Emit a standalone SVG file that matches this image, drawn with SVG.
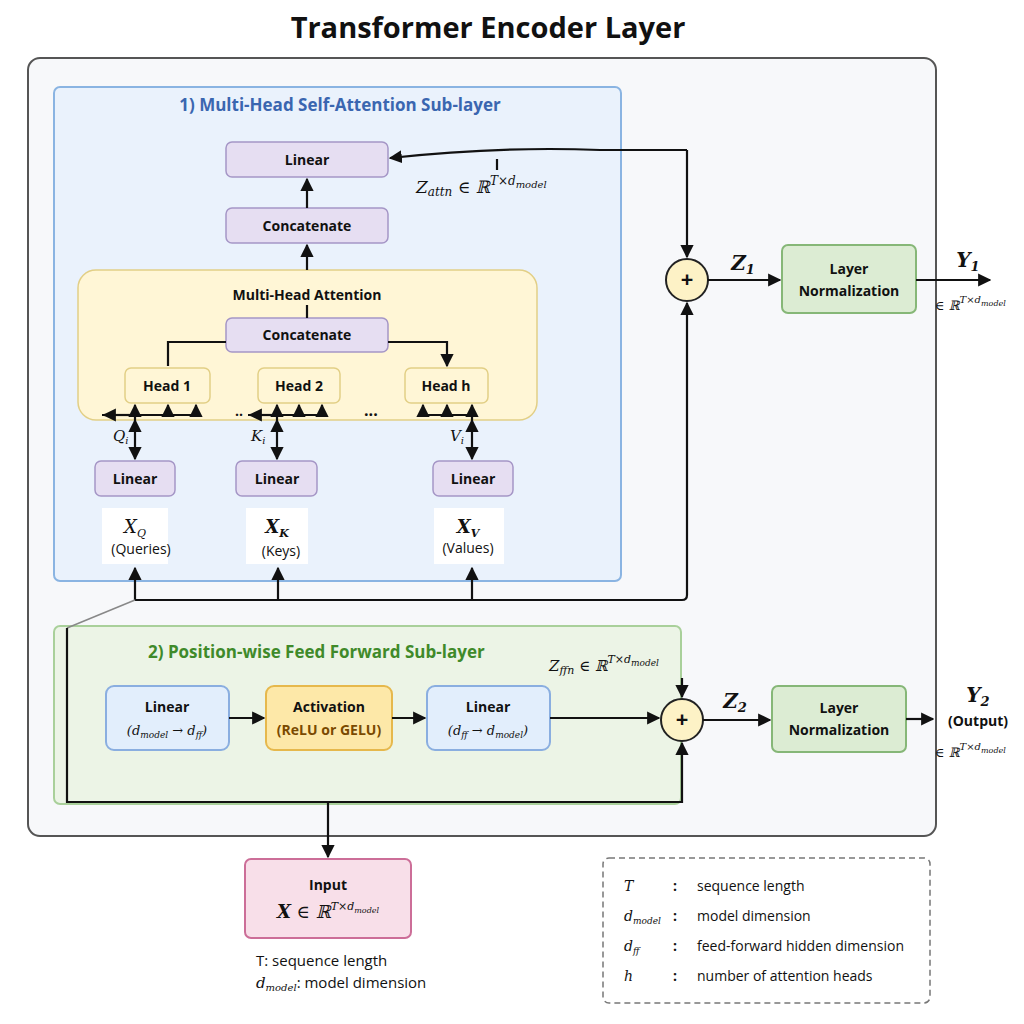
<svg xmlns="http://www.w3.org/2000/svg" width="1024" height="1024" viewBox="0 0 1024 1024">
<style>
.t{font-family:"Open Sans","Liberation Sans",sans-serif;fill:#111}
.b{font-weight:bold;font-size:14px}
.m{font-family:"DejaVu Serif","Liberation Serif",serif;font-style:italic;fill:#111}
.pu{fill:#e6def2;stroke:#a596c6;stroke-width:1.5}
.ye{fill:#fff6d6;stroke:#e2cf86;stroke-width:1.5}
.gr{fill:#dcecd3;stroke:#86b777;stroke-width:2}
.bl{fill:#e2eefc;stroke:#8aaee0;stroke-width:2}
.ln{fill:none;stroke:#111;stroke-width:2.2}
</style>
<defs>
<marker id="a" viewBox="0 0 10 10" refX="9" refY="5" markerWidth="6" markerHeight="6" orient="auto-start-reverse"><path d="M0,0L10,5L0,10z" fill="#111"/></marker>
</defs>
<rect width="1024" height="1024" fill="#fff"/>
<text x="488" y="38" text-anchor="middle" class="t" font-size="29" font-weight="bold">Transformer Encoder Layer</text>
<rect x="28" y="58" width="908" height="778" rx="12" fill="#f7f8fa" stroke="#555" stroke-width="2"/>
<g id="sub1">
<rect x="54" y="87" width="567" height="494" rx="6" fill="#eaf2fc" stroke="#8ab4e2" stroke-width="2"/>
<text x="340" y="111" text-anchor="middle" class="t" font-size="17" font-weight="bold" style="fill:#3a66b0">1) Multi-Head Self-Attention Sub-layer</text>
</g>
<g id="sub2">
<rect x="54" y="626" width="627" height="178" rx="6" fill="#ecf4e6" stroke="#a9d09a" stroke-width="2"/>
<text x="148" y="658" class="t" font-size="17" font-weight="bold" style="fill:#3f8a2a">2) Position-wise Feed Forward Sub-layer</text>
</g>
<g id="mha"><rect x="78" y="270" width="459" height="150" rx="18" class="ye"/>
<text x="307" y="300" text-anchor="middle" class="t b">Multi-Head Attention</text></g>
<g id="linTop"><rect x="226" y="142" width="162" height="35" rx="6" class="pu"/><text x="307" y="165" text-anchor="middle" class="t b">Linear</text></g>
<g id="concTop"><rect x="226" y="208" width="162" height="35" rx="6" class="pu"/><text x="307" y="231" text-anchor="middle" class="t b">Concatenate</text></g>
<g id="concIn"><rect x="226" y="318" width="162" height="34" rx="6" class="pu"/><text x="307" y="340" text-anchor="middle" class="t b">Concatenate</text></g>
<g id="h1"><rect x="125" y="368" width="85" height="35" rx="6" class="ye"/><text x="167" y="391" text-anchor="middle" class="t b">Head 1</text></g>
<g id="h2"><rect x="258" y="368" width="82" height="35" rx="6" class="ye"/><text x="299" y="391" text-anchor="middle" class="t b">Head 2</text></g>
<g id="hh"><rect x="405" y="368" width="83" height="35" rx="6" class="ye"/><text x="446" y="391" text-anchor="middle" class="t b">Head h</text></g>
<g id="lq"><rect x="95" y="461" width="80" height="35" rx="6" class="pu"/><text x="135" y="484" text-anchor="middle" class="t b">Linear</text></g>
<g id="lk"><rect x="236" y="461" width="81" height="35" rx="6" class="pu"/><text x="277" y="484" text-anchor="middle" class="t b">Linear</text></g>
<g id="lv"><rect x="433" y="461" width="80" height="35" rx="6" class="pu"/><text x="473" y="484" text-anchor="middle" class="t b">Linear</text></g>
<g id="inputs" font-size="14">
<rect x="102" y="508" width="66" height="56" fill="#fff"/>
<rect x="246" y="508" width="62" height="56" fill="#fff"/>
<rect x="434" y="508" width="70" height="56" fill="#fff"/>
<text x="135" y="533" text-anchor="middle" class="m" font-size="18">X<tspan font-size="11" dy="4">Q</tspan></text>
<text x="141" y="554" text-anchor="middle" class="t">(Queries)</text>
<text x="277" y="533" text-anchor="middle" class="m" font-size="18" font-weight="bold">X<tspan font-size="11" dy="4">K</tspan></text>
<text x="281" y="556" text-anchor="middle" class="t">(Keys)</text>
<text x="468" y="533" text-anchor="middle" class="m" font-size="18" font-weight="bold">X<tspan font-size="11" dy="4">V</tspan></text>
<text x="468" y="553" text-anchor="middle" class="t">(Values)</text>
</g>
<g id="ffn">
<rect x="106" y="686" width="123" height="64" rx="8" class="bl"/><text x="167" y="712" text-anchor="middle" class="t b">Linear</text><text x="167" y="735" text-anchor="middle" class="m" font-size="13">(d<tspan font-size="9" dy="3">model</tspan><tspan dy="-3"> → d</tspan><tspan font-size="9" dy="3">ff</tspan><tspan dy="-3">)</tspan></text>
<rect x="266" y="686" width="126" height="64" rx="8" fill="#fde8a8" stroke="#e6b84c" stroke-width="2"/><text x="329" y="712" text-anchor="middle" class="t b">Activation</text><text x="329" y="735" text-anchor="middle" class="t b" style="fill:#7a4a00">(ReLU or GELU)</text>
<rect x="427" y="686" width="123" height="64" rx="8" class="bl"/><text x="488" y="712" text-anchor="middle" class="t b">Linear</text><text x="488" y="735" text-anchor="middle" class="m" font-size="13">(d<tspan font-size="9" dy="3">ff</tspan><tspan dy="-3"> → d</tspan><tspan font-size="9" dy="3">model</tspan><tspan dy="-3">)</tspan></text>
</g>
<g id="add1"><circle cx="687" cy="280" r="21" fill="#fdf2c6" stroke="#222" stroke-width="2"/><text x="687" y="287" text-anchor="middle" class="t" font-size="22" font-weight="bold">+</text></g>
<g id="add2"><circle cx="682" cy="720" r="21" fill="#fdf2c6" stroke="#222" stroke-width="2"/><text x="682" y="727" text-anchor="middle" class="t" font-size="22" font-weight="bold">+</text></g>
<g id="ln1"><rect x="782" y="245" width="134" height="68" rx="6" class="gr"/><text x="849" y="274" text-anchor="middle" class="t b">Layer</text><text x="849" y="296" text-anchor="middle" class="t b">Normalization</text></g>
<g id="ln2"><rect x="772" y="686" width="134" height="66" rx="6" class="gr"/><text x="839" y="713" text-anchor="middle" class="t b">Layer</text><text x="839" y="735" text-anchor="middle" class="t b">Normalization</text></g>
<g id="input"><rect x="245" y="859" width="166" height="79" rx="6" fill="#f8dfe9" stroke="#cc6e98" stroke-width="2"/><text x="328" y="890" text-anchor="middle" class="t b">Input</text><text x="328" y="918" text-anchor="middle" class="m" font-size="18"><tspan font-weight="bold">X</tspan> ∈ ℝ<tspan font-size="11" dy="-8">T×d</tspan><tspan font-size="8" dy="3">model</tspan></text></g>
<g id="labels">
<text x="416" y="193" class="m" font-size="17">Z<tspan font-size="12" dy="3">attn</tspan><tspan dy="-3"> ∈ ℝ</tspan><tspan font-size="12" dy="-8">T×d</tspan><tspan font-size="10" dy="3">model</tspan></text>
<text x="549" y="671" class="m" font-size="15">Z<tspan font-size="11" dy="3">ffn</tspan><tspan dy="-3"> ∈ ℝ</tspan><tspan font-size="11" dy="-8">T×d</tspan><tspan font-size="9" dy="3">model</tspan></text>
<text x="743" y="270" text-anchor="middle" class="m" font-size="20" font-weight="bold">Z<tspan font-size="13" dy="4">1</tspan></text>
<text x="735" y="708" text-anchor="middle" class="m" font-size="20" font-weight="bold">Z<tspan font-size="13" dy="4">2</tspan></text>
<text x="968" y="267" text-anchor="middle" class="m" font-size="20" font-weight="bold">Y<tspan font-size="13" dy="4">1</tspan></text>
<text x="935" y="310" class="m" font-size="13">∈ ℝ<tspan font-size="10" dy="-7">T×d</tspan><tspan font-size="8" dy="3">model</tspan></text>
<text x="978" y="702" text-anchor="middle" class="m" font-size="20" font-weight="bold">Y<tspan font-size="13" dy="4">2</tspan></text>
<text x="978" y="726" text-anchor="middle" class="t b">(Output)</text>
<text x="935" y="757" class="m" font-size="13">∈ ℝ<tspan font-size="10" dy="-7">T×d</tspan><tspan font-size="8" dy="3">model</tspan></text>
<text x="113" y="441" class="m" font-size="15">Q<tspan font-size="10" dy="3">i</tspan></text>
<text x="251" y="441" class="m" font-size="15">K<tspan font-size="10" dy="3">i</tspan></text>
<text x="450" y="441" class="m" font-size="15">V<tspan font-size="10" dy="3">i</tspan></text>
<text x="235" y="420" class="t" font-size="14" font-weight="bold">··</text>
<text x="364" y="420" class="t" font-size="16" font-weight="bold">···</text>
<text x="256" y="966" class="t" font-size="15">T: sequence length</text>
<text x="256" y="988" class="m" font-size="15">d<tspan font-size="10" dy="3">model</tspan><tspan dy="-3" style="font-style:normal;font-family:'Open Sans',sans-serif">: model dimension</tspan></text>
</g>
<g id="legend">
<rect x="603" y="858" width="327" height="145" rx="6" fill="#fff" stroke="#777" stroke-width="1.5" stroke-dasharray="6 4"/>
<g font-size="14">
<text x="624" y="891" class="m">T</text><text x="673" y="891" class="t" font-weight="bold">:</text><text x="697" y="891" class="t">sequence length</text>
<text x="624" y="921" class="m">d<tspan font-size="9" dy="3">model</tspan></text><text x="673" y="921" class="t" font-weight="bold">:</text><text x="697" y="921" class="t">model dimension</text>
<text x="624" y="951" class="m">d<tspan font-size="9" dy="3">ff</tspan></text><text x="673" y="951" class="t" font-weight="bold">:</text><text x="697" y="951" class="t">feed-forward hidden dimension</text>
<text x="624" y="981" class="m">h</text><text x="673" y="981" class="t" font-weight="bold">:</text><text x="697" y="981" class="t">number of attention heads</text>
</g></g>
<g id="connectors">
<path class="ln" d="M307,208V179" marker-end="url(#a)"/>
<path class="ln" d="M307,270V245" marker-end="url(#a)"/>
<path class="ln" d="M307,318V305"/>
<path class="ln" d="M226,342H168V366"/>
<path class="ln" d="M388,342H447V366" marker-end="url(#a)"/>
<path class="ln" d="M687,150H600Q500,146 390,158" marker-end="url(#a)"/>
<path class="ln" d="M687,150V257" marker-end="url(#a)"/>
<path class="ln" d="M497,159V170" stroke-width="1.5"/>
<path class="ln" d="M135,420V459" marker-start="url(#a)" marker-end="url(#a)"/>
<path class="ln" d="M277,420V459" marker-start="url(#a)" marker-end="url(#a)"/>
<path class="ln" d="M472,420V459" marker-start="url(#a)" marker-end="url(#a)"/>
<path class="ln" d="M135,420V405" marker-end="url(#a)" stroke-width="2"/>
<path class="ln" d="M277,420V405" marker-end="url(#a)" stroke-width="2"/>
<path class="ln" d="M472,420V405" marker-end="url(#a)" stroke-width="2"/>
<path class="ln" d="M102,415H200" stroke-width="2"/>
<path class="ln" d="M135,415H104" marker-end="url(#a)" stroke-width="1.6"/>
<path class="ln" d="M168,415V405" marker-end="url(#a)" stroke-width="1.6"/>
<path class="ln" d="M196,415V405" marker-end="url(#a)" stroke-width="1.6"/>
<path class="ln" d="M248,415H325" stroke-width="2"/>
<path class="ln" d="M277,415H250" marker-end="url(#a)" stroke-width="1.6"/>
<path class="ln" d="M299,415V405" marker-end="url(#a)" stroke-width="1.6"/>
<path class="ln" d="M322,415V405" marker-end="url(#a)" stroke-width="1.6"/>
<path class="ln" d="M422,415H472" stroke-width="2"/>
<path class="ln" d="M423,415V405" marker-end="url(#a)" stroke-width="1.6"/>
<path class="ln" d="M447,415V405" marker-end="url(#a)" stroke-width="1.6"/>
<path class="ln" d="M135,600H682Q687,600 687,595V303" marker-end="url(#a)"/>
<path class="ln" d="M135,600V568" marker-end="url(#a)"/>
<path class="ln" d="M278,600V568" marker-end="url(#a)"/>
<path class="ln" d="M472,600V568" marker-end="url(#a)"/>
<path d="M135,600L67,628" stroke="#888" stroke-width="1.5" fill="none"/>
<path class="ln" d="M67,628V802H682V743" marker-end="url(#a)"/>
<path class="ln" d="M328,802V857" marker-end="url(#a)"/>
<path class="ln" d="M682,678V697" marker-end="url(#a)"/>
<path class="ln" d="M229,718H264" marker-end="url(#a)"/>
<path class="ln" d="M392,718H425" marker-end="url(#a)"/>
<path class="ln" d="M550,718H659" marker-end="url(#a)"/>
<path class="ln" d="M708,280H780" marker-end="url(#a)"/>
<path class="ln" d="M916,280H990" marker-end="url(#a)"/>
<path class="ln" d="M703,720H770" marker-end="url(#a)"/>
<path class="ln" d="M906,719H933" marker-end="url(#a)"/>
</g>
</svg>
